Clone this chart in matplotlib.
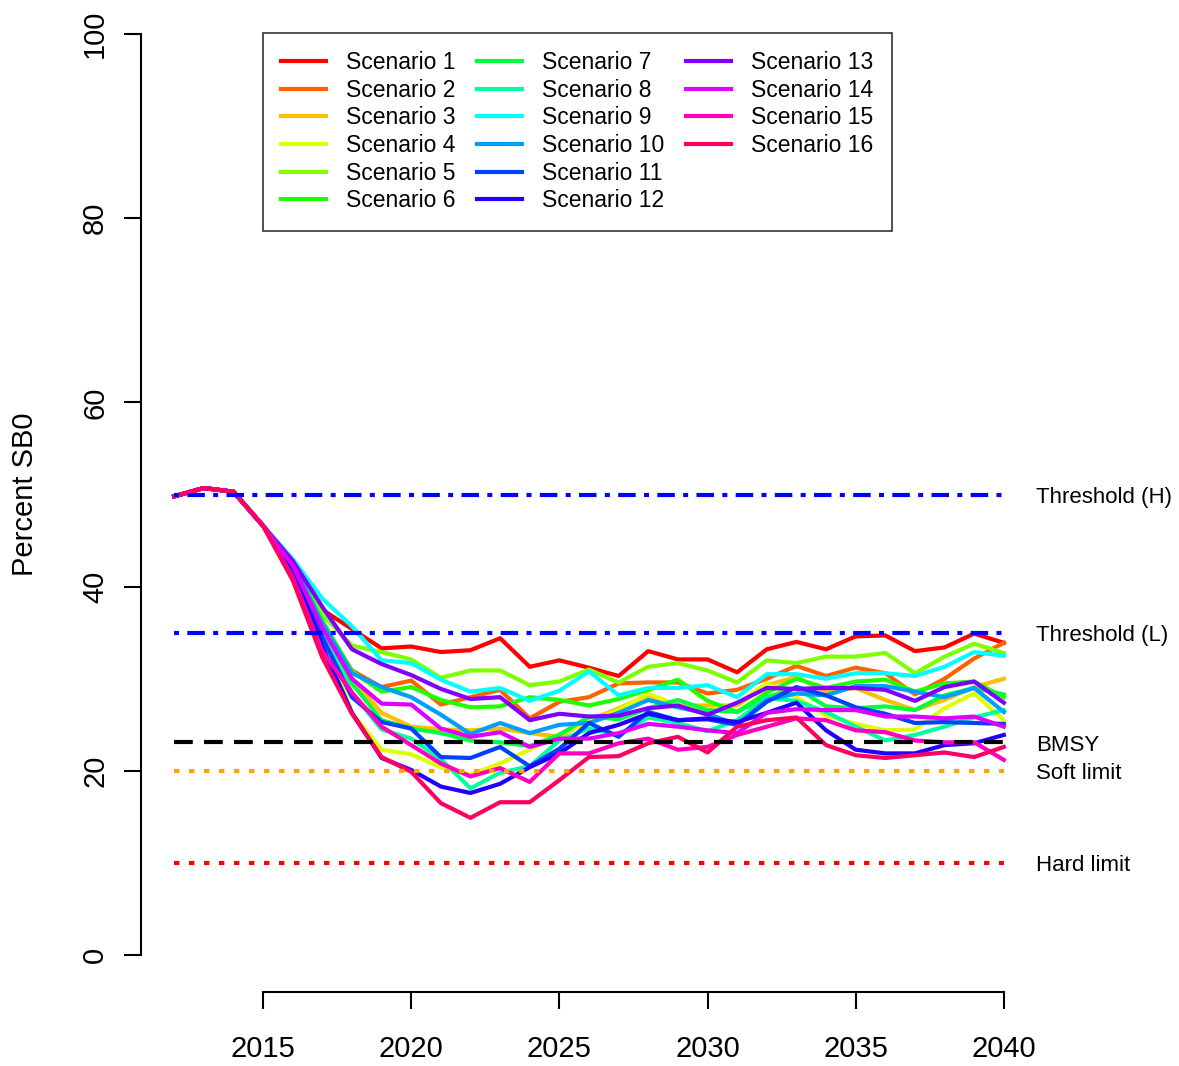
import matplotlib
matplotlib.use("Agg")
import matplotlib.pyplot as plt
from matplotlib.colors import hsv_to_rgb
from matplotlib.lines import Line2D

plt.rcParams['font.family'] = ['Liberation Sans', 'DejaVu Sans']

years = list(range(2012, 2041))

scenario_1 = [49.8, 50.7, 50.3, 46.6, 42.6, 37.5, 35.4, 33.3, 33.5, 32.9, 33.1, 34.4, 31.3, 32.0, 31.2,
              30.3, 33.0, 32.1, 32.1, 30.7, 33.2, 34.0, 33.2, 34.6, 34.7, 33.0, 33.4, 34.9, 33.9]
scenario_2 = [49.8, 50.7, 50.3, 46.6, 42.7, 36.0, 30.9, 29.1, 29.8, 27.2, 28.0, 28.8, 25.7, 27.5, 28.0,
              29.5, 29.6, 29.6, 28.4, 28.8, 30.0, 31.4, 30.3, 31.2, 30.6, 28.3, 30.0, 32.2, 33.9]
scenario_3 = [49.8, 50.7, 50.3, 46.6, 42.6, 36.0, 30.0, 26.3, 24.8, 24.5, 24.4, 24.6, 24.1, 23.7, 25.5,
              26.8, 28.2, 27.1, 27.1, 27.1, 29.3, 30.2, 28.6, 29.0, 27.7, 26.6, 27.7, 29.1, 30.0]
scenario_4 = [49.8, 50.7, 50.3, 46.6, 42.5, 35.0, 26.3, 22.3, 21.8, 20.4, 19.6, 20.8, 22.3, 24.0, 25.3,
              26.6, 28.4, 27.1, 26.5, 27.3, 29.5, 28.0, 26.0, 25.1, 24.4, 24.5, 26.8, 28.4, 25.5]
scenario_5 = [49.8, 50.7, 50.3, 46.6, 42.7, 37.0, 33.6, 32.9, 32.1, 30.1, 30.9, 30.9, 29.3, 29.7, 31.0,
              29.6, 31.3, 31.7, 30.9, 29.6, 32.0, 31.7, 32.4, 32.4, 32.8, 30.6, 32.4, 33.8, 32.8]
scenario_6 = [49.8, 50.7, 50.3, 46.6, 42.6, 36.3, 30.8, 28.6, 29.1, 27.7, 26.9, 27.0, 28.0, 27.7, 27.1,
              27.8, 28.8, 29.9, 27.6, 26.4, 28.5, 30.0, 29.0, 29.7, 29.9, 28.6, 29.5, 29.7, 28.0]
scenario_7 = [49.8, 50.7, 50.3, 46.6, 42.5, 35.8, 29.5, 25.5, 24.6, 24.1, 23.3, 23.1, 22.7, 23.9, 25.9,
              25.6, 26.8, 27.7, 26.6, 26.4, 28.0, 29.0, 27.0, 26.8, 27.0, 26.6, 28.2, 29.0, 28.3]
scenario_8 = [49.8, 50.7, 50.3, 46.6, 42.4, 35.0, 28.5, 24.5, 23.5, 21.3, 18.1, 19.8, 20.5, 23.3, 24.6,
              23.9, 25.8, 25.2, 24.3, 25.5, 27.9, 27.6, 26.4, 24.8, 23.3, 23.9, 24.8, 25.8, 26.6]
scenario_9 = [49.8, 50.7, 50.3, 46.6, 43.0, 38.7, 35.7, 32.0, 31.7, 29.9, 28.6, 29.0, 27.6, 28.7, 30.8,
              28.2, 29.0, 29.0, 29.3, 28.0, 30.5, 30.5, 30.0, 30.6, 30.6, 30.3, 31.3, 32.9, 32.5]
scenario_10 = [49.8, 50.7, 50.3, 46.6, 42.5, 36.0, 30.6, 29.1, 28.0, 26.1, 24.0, 25.2, 24.1, 25.0, 25.2,
               26.3, 27.7, 26.9, 26.2, 25.0, 27.7, 28.4, 28.2, 29.2, 29.2, 28.6, 28.0, 29.0, 26.4]
scenario_11 = [49.8, 50.7, 50.3, 46.6, 42.0, 34.5, 28.0, 25.3, 24.6, 21.5, 21.4, 22.6, 20.5, 22.4, 25.2,
               23.7, 26.4, 25.5, 25.6, 25.0, 27.5, 29.1, 28.2, 26.9, 26.2, 25.2, 25.3, 25.2, 25.1]
scenario_12 = [49.8, 50.7, 50.3, 46.6, 41.8, 33.5, 26.3, 21.4, 20.1, 18.3, 17.6, 18.6, 20.4, 21.9, 24.1,
               25.0, 26.2, 25.5, 25.7, 25.3, 26.3, 27.4, 24.4, 22.3, 21.9, 21.9, 22.8, 23.0, 23.9]
scenario_13 = [49.8, 50.7, 50.3, 46.6, 42.8, 37.8, 33.2, 31.6, 30.4, 28.9, 27.8, 28.0, 25.5, 26.2, 25.9,
               26.0, 26.8, 27.1, 26.1, 27.4, 29.0, 28.9, 29.0, 29.0, 28.8, 27.6, 29.1, 29.7, 27.4]
scenario_14 = [49.8, 50.7, 50.3, 46.6, 42.3, 35.5, 30.0, 27.3, 27.2, 24.6, 23.7, 24.2, 22.6, 23.5, 23.5,
               24.1, 25.1, 24.8, 24.4, 24.1, 26.3, 26.7, 26.6, 26.6, 25.9, 25.9, 25.7, 25.9, 24.8]
scenario_15 = [49.8, 50.7, 50.3, 46.6, 41.0, 33.0, 28.5, 24.8, 22.8, 20.8, 19.4, 20.3, 18.8, 21.9, 21.9,
               23.0, 23.5, 22.3, 22.6, 23.9, 24.8, 25.7, 25.5, 24.4, 24.2, 23.3, 23.1, 23.1, 21.2]
scenario_16 = [49.8, 50.7, 50.3, 46.6, 40.7, 32.3, 26.2, 21.5, 19.9, 16.5, 14.9, 16.6, 16.6, 19.0, 21.5,
               21.6, 23.0, 23.7, 22.0, 24.8, 25.5, 25.8, 22.8, 21.7, 21.4, 21.7, 22.0, 21.5, 22.6]

scenarios = [scenario_1, scenario_2, scenario_3, scenario_4, scenario_5, scenario_6, scenario_7,
             scenario_8, scenario_9, scenario_10, scenario_11, scenario_12, scenario_13, scenario_14,
             scenario_15, scenario_16]
scenario_names = [f"Scenario {i}" for i in range(1, 17)]

ref_levels = [50, 35, 23.1, 20, 10]
ref_labels = ["Threshold (H)", "Threshold (L)", "BMSY", "Soft limit", "Hard limit"]
ref_colors = ["blue", "blue", "black", "orange", "red"]
ref_styles = [(0, (1.2, 2.0, 4.2, 2.0)), (0, (1.2, 2.0, 4.2, 2.0)), (0, (4.5, 2.7)),
              (0, (1.3, 2.3)), (0, (1.3, 2.3))]

# R-style rainbow(16) palette
colors = [hsv_to_rgb((i / 16, 1, 1)) for i in range(16)]

fig = plt.figure(figsize=(11.79, 10.66), dpi=100)
ax = fig.add_axes([141 / 1179, 74 / 1066, 896 / 1179, 995 / 1066])

handles = []
for vals, name, col in zip(scenarios, scenario_names, colors):
    h, = ax.plot(years, vals, color=col, lw=3.0, label=name, solid_joinstyle='round')
    handles.append(h)

for lev, lab, col, ls in zip(ref_levels, ref_labels, ref_colors, ref_styles):
    ax.plot([years[0], years[-1]], [lev, lev], color=col, lw=3.0, linestyle=ls,
            dash_capstyle='butt', zorder=5)
    ax.text(2041.1, lev - 0.3, lab, fontsize=16, ha='left', va='center', clip_on=False)

ax.set_xlim(2010.88, 2041.12)
ax.set_ylim(-4, 104)

for side in ['top', 'right']:
    ax.spines[side].set_visible(False)
ax.spines['left'].set_bounds(0, 100)
ax.spines['bottom'].set_bounds(2015, 2040)
ax.spines['left'].set_linewidth(1.5)
ax.spines['bottom'].set_linewidth(1.5)

ax.set_xticks(range(2015, 2041, 5))
ax.set_yticks(range(0, 101, 20))
ax.tick_params(axis='both', labelsize=21, length=12, width=1.5)
ax.tick_params(axis='x', pad=19)
ax.tick_params(axis='y', pad=11)
for lbl in ax.get_yticklabels():
    lbl.set_rotation(90)
    lbl.set_va('center')

fig.text(25 / 1179, 1 - 494 / 1066, "Percent SB0", rotation=90, ha='center', va='center',
         fontsize=21)

# two blank slots so the columns fill 6, 6, 4 like R's legend
blank = Line2D([], [], color='none')
leg_handles = handles + [blank, blank]
leg_labels = scenario_names + ["", ""]
leg = ax.legend(leg_handles, leg_labels, loc='upper left',
                bbox_to_anchor=(263 / 1179, 1 - 33 / 1066),
                bbox_transform=fig.transFigure, ncol=3, fontsize=16.5, frameon=True,
                fancybox=False, borderaxespad=0, handlelength=1.96, handletextpad=0.87,
                columnspacing=0.95, labelspacing=0.2, borderpad=0.8)
leg.get_frame().set_edgecolor('black')
leg.get_frame().set_linewidth(1.2)

fig.savefig("out.png", dpi=100)
